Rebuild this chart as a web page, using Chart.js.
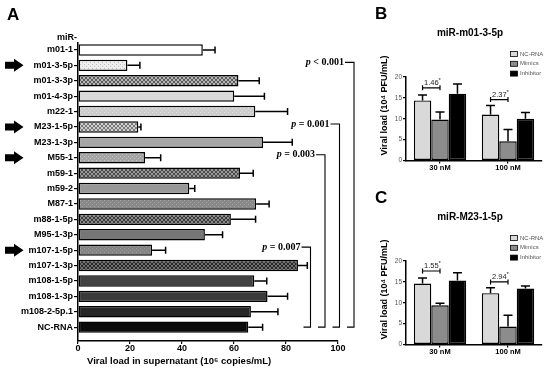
<!DOCTYPE html>
<html>
<head>
<meta charset="utf-8">
<script src="https://cdn.jsdelivr.net/npm/chart.js@4.4.1/dist/chart.umd.min.js"></script>
<style>
body { margin:0; background:#fff; width:550px; height:368px; overflow:hidden; position:relative; }
canvas { position:absolute; }
#chartA { left:0; top:0; }
#chartB { left:370px; top:0; }
#chartC { left:370px; top:184px; }
</style>
</head>
<body>
<canvas id="chartA" width="370" height="368"></canvas>
<canvas id="chartB" width="180" height="184"></canvas>
<canvas id="chartC" width="180" height="184"></canvas>
<script>
// ===== Panel A data =====
const mirLabels = ['m01-1', 'm01-3-5p', 'm01-3-3p', 'm01-4-3p', 'm22-1', 'M23-1-5p', 'M23-1-3p', 'M55-1',
  'm59-1', 'm59-2', 'M87-1', 'm88-1-5p', 'M95-1-3p', 'm107-1-5p', 'm107-1-3p', 'm108-1-5p',
  'm108-1-3p', 'm108-2-5p.1', 'NC-RNA'];
const loadA = [48, 19, 61.7, 60.1, 68.2, 23.2, 71.2, 25.8, 62.3, 42.8, 68.5, 58.8, 48.8, 28.5, 84.6, 67.8, 72.9, 66.5, 65.5];
const sdA = [4.7, 4.8, 8, 11.6, 12.4, 1, 11.2, 6, 5.1, 2.1, 5, 9.5, 6.8, 5.2, 3.6, 4.8, 7.7, 10.4, 5.5];
const xTicksA = [0, 20, 40, 60, 80, 100];
const arrowRows = ['m01-3-5p', 'M23-1-5p', 'M55-1', 'm107-1-5p'];
const pTexts = ['< 0.001', '= 0.001', '= 0.003', '= 0.007'];
const pRows = ['m01-3-5p', 'M23-1-5p', 'M55-1', 'm107-1-5p'];

// ===== Panels B and C data =====
const dosesBC = ['30 nM', '100 nM'];
const seriesBC = ['NC-RNA', 'Mimics', 'Inhibitor'];
const yTicksBC = [0, 5, 10, 15, 20];

const bNC = [14.4, 11.0];
const bMimics = [9.8, 4.6];
const bInhibitor = [16.0, 10.0];
const bNCsd = [1.3, 2.2];
const bMimicsSd = [1.8, 2.8];
const bInhibitorSd = [2.3, 1.5];
const bFold = ['1.46', '2.37'];
const bFoldAt = [17.4, 14.6];

const cNC = [14.6, 12.3];
const cMimics = [9.4, 4.3];
const cInhibitor = [15.3, 13.4];
const cNCsd = [1.3, 1.3];
const cMimicsSd = [0.5, 2.7];
const cInhibitorSd = [1.9, 0.6];
const cFold = ['1.55', '2.94'];
const cFoldAt = [17.6, 15.0];

const SANS = "'Liberation Sans', Arial, sans-serif";
const SERIF = "'Liberation Serif', 'Times New Roman', serif";

// ===== fill patterns =====
function hatch(dark, light) {
  const c = document.createElement('canvas'); c.width = 4; c.height = 4;
  const g = c.getContext('2d');
  g.fillStyle = light; g.fillRect(0, 0, 4, 4);
  g.fillStyle = dark;
  [[0,0],[1,1],[2,2],[3,3],[3,0],[2,1],[1,2],[0,3]].forEach(p => g.fillRect(p[0], p[1], 1, 1));
  return g.createPattern(c, 'repeat');
}
function speckle(base, dot) {
  const c = document.createElement('canvas'); c.width = 4; c.height = 4;
  const g = c.getContext('2d');
  g.fillStyle = base; g.fillRect(0, 0, 4, 4);
  g.fillStyle = dot;
  g.fillRect(0, 0, 1, 1); g.fillRect(2, 2, 1, 1);
  return g.createPattern(c, 'repeat');
}
const fillsA = [
  '#ffffff', speckle('#eeeeee', '#bdbdbd'), hatch('#5a5a5a', '#b8b8b8'), '#d9d9d9', speckle('#cccccc', '#e2e2e2'),
  hatch('#7a7a7a', '#cfcfcf'), '#a6a6a6', speckle('#a4a4a4', '#c4c4c4'), hatch('#4a4a4a', '#9a9a9a'), '#989898',
  speckle('#888888', '#a8a8a8'), hatch('#3c3c3c', '#8a8a8a'), '#767676', speckle('#848484', '#9c9c9c'),
  hatch('#2a2a2a', '#6e6e6e'), '#424242', '#3a3a3a', '#262626', '#0a0a0a'
];

// ===== Panel A extras: error bars, arrows, p brackets, texts =====
const panelAExtras = {
  id: 'panelAExtras',
  afterDatasetsDraw(chart) {
    const { ctx, chartArea, scales: { x, y } } = chart;
    const meta = chart.getDatasetMeta(0);
    ctx.save();
    ctx.strokeStyle = '#000';
    ctx.lineWidth = 1.5;
    meta.data.forEach((bar, i) => {
      const xe = x.getPixelForValue(loadA[i] + sdA[i]);
      ctx.beginPath();
      ctx.moveTo(bar.x, bar.y); ctx.lineTo(xe, bar.y);
      ctx.moveTo(xe, bar.y - 3.5); ctx.lineTo(xe, bar.y + 3.5);
      ctx.stroke();
    });

    // arrows
    ctx.fillStyle = '#000';
    arrowRows.forEach(name => {
      const yy = y.getPixelForValue(mirLabels.indexOf(name));
      ctx.beginPath();
      ctx.moveTo(5, yy - 3.5); ctx.lineTo(14, yy - 3.5); ctx.lineTo(14, yy - 6.5);
      ctx.lineTo(23.5, yy); ctx.lineTo(14, yy + 6.5); ctx.lineTo(14, yy + 3.5); ctx.lineTo(5, yy + 3.5);
      ctx.closePath(); ctx.fill();
    });

    // p brackets
    const yBot = y.getPixelForValue(mirLabels.length - 1);
    ctx.lineWidth = 1.1;
    ctx.textBaseline = 'middle';
    pTexts.forEach((t, k) => {
      const xb = chartArea.right + 16 - 14.5 * k;
      const yt = y.getPixelForValue(mirLabels.indexOf(pRows[k])) - 3;
      ctx.beginPath();
      ctx.moveTo(xb - 9, yt); ctx.lineTo(xb, yt); ctx.lineTo(xb, yBot); ctx.lineTo(xb - 7, yBot);
      ctx.stroke();
      ctx.font = 'bold 10px ' + SERIF;
      ctx.textAlign = 'right';
      const rest = ' ' + t;
      const xr = xb - 10;
      ctx.fillText(rest, xr, yt);
      const w = ctx.measureText(rest).width;
      ctx.font = 'italic bold 10px ' + SERIF;
      ctx.fillText('p', xr - w, yt);
    });

    // texts
    ctx.textAlign = 'left';
    ctx.font = 'bold 17px ' + SANS;
    ctx.fillText('A', 7, 15);
    ctx.textAlign = 'right';
    ctx.font = 'bold 9px ' + SANS;
    ctx.fillText('miR-', chartArea.left - 1, y.getPixelForValue(-0.82));
    ctx.textAlign = 'left';
    ctx.font = 'bold 9.5px ' + SANS;
    ctx.fillText('Viral load in supernatant (10\u2076 copies/mL)', chartArea.left + 9, 361);
    ctx.restore();
  }
};

new Chart(document.getElementById('chartA'), {
  type: 'bar',
  data: {
    datasets: [{
      label: 'Viral load',
      data: loadA.map((v, i) => ({ x: v, y: i })),
      backgroundColor: fillsA,
      borderColor: '#000',
      borderWidth: 1.5,
      borderSkipped: false,
      barPercentage: 0.74,
      categoryPercentage: 1
    }]
  },
  options: {
    indexAxis: 'y',
    responsive: false,
    animation: false,
    layout: { padding: { top: 43, right: 32, left: 0, bottom: 0 } },
    plugins: { legend: { display: false }, tooltip: { enabled: false } },
    scales: {
      x: {
        type: 'linear', min: 0, max: 100, offset: false,
        afterBuildTicks: s => { s.ticks = xTicksA.map(v => ({ value: v })); },
        afterFit: s => { s.height = 27; },
        grid: { drawOnChartArea: false, tickLength: 3, color: '#000', lineWidth: 1.2 },
        border: { color: '#000', width: 1.5 },
        ticks: { color: '#000', padding: 0, font: { family: SANS, size: 9, weight: 'bold', lineHeight: 1 } }
      },
      y: {
        type: 'linear', reverse: true, min: -0.45, max: 18.9, offset: false,
        afterBuildTicks: s => { s.ticks = mirLabels.map((_, i) => ({ value: i })); },
        afterFit: s => { s.width = 78; },
        grid: { offset: false, drawOnChartArea: false, tickLength: 4, color: '#000', lineWidth: 1.2 },
        border: { color: '#000', width: 1.5 },
        ticks: { autoSkip: false, color: '#000', padding: 1, callback: v => mirLabels[v],
          font: { family: SANS, size: 9, weight: 'bold' } }
      }
    }
  },
  plugins: [panelAExtras]
});

// ===== Panels B and C =====
const colorsBC = ['#d9d9d9', '#8c8c8c', '#000000'];

function dosePanel(id, letter, title, series, sds, fold, foldAt) {
  const extras = {
    id: 'extras' + letter,
    afterDatasetsDraw(chart) {
      const { ctx, scales: { y } } = chart;
      ctx.save();
      ctx.strokeStyle = '#000';
      ctx.fillStyle = '#000';
      ctx.lineWidth = 1.5;
      // error bars (upper only)
      series.forEach((d, s) => {
        chart.getDatasetMeta(s).data.forEach((bar, g) => {
          const ye = y.getPixelForValue(d[g] + sds[s][g]);
          ctx.beginPath();
          ctx.moveTo(bar.x, bar.y); ctx.lineTo(bar.x, ye);
          ctx.moveTo(bar.x - 4.5, ye); ctx.lineTo(bar.x + 4.5, ye);
          ctx.stroke();
        });
      });
      // fold-change brackets
      ctx.lineWidth = 1.2;
      fold.forEach((f, g) => {
        const x0 = chart.getDatasetMeta(0).data[g].x;
        const x1 = chart.getDatasetMeta(1).data[g].x;
        const yy = y.getPixelForValue(foldAt[g]);
        ctx.beginPath();
        ctx.moveTo(x0, yy - 2.5); ctx.lineTo(x0, yy + 2.5);
        ctx.moveTo(x0, yy); ctx.lineTo(x1, yy);
        ctx.moveTo(x1, yy - 2.5); ctx.lineTo(x1, yy + 2.5);
        ctx.stroke();
        ctx.font = '7.5px ' + SANS;
        ctx.fillStyle = '#222';
        ctx.textAlign = 'center';
        ctx.textBaseline = 'alphabetic';
        const xc = (x0 + x1) / 2;
        ctx.fillText(f, xc, yy - 3);
        const w = ctx.measureText(f).width;
        ctx.font = '6px ' + SANS;
        ctx.textAlign = 'left';
        ctx.fillText('*', xc + w / 2, yy - 6);
      });
      // legend
      ctx.textBaseline = 'middle';
      ctx.lineWidth = 0.8;
      seriesBC.forEach((name, i) => {
        const ly = 54 + 9.8 * i;
        ctx.fillStyle = colorsBC[i];
        ctx.fillRect(140.5, ly - 2.5, 7, 5);
        ctx.strokeRect(140.5, ly - 2.5, 7, 5);
        ctx.fillStyle = '#555';
        ctx.font = '6px ' + SANS;
        ctx.textAlign = 'left';
        ctx.fillText(name, 150, ly);
      });
      // panel letter, title, y title
      ctx.fillStyle = '#000';
      ctx.font = 'bold 17px ' + SANS;
      ctx.fillText(letter, 5, 14);
      ctx.font = 'bold 10px ' + SANS;
      ctx.textAlign = 'center';
      ctx.fillText(title, 100, 33);
      ctx.translate(15, 105.5);
      ctx.rotate(-Math.PI / 2);
      ctx.font = 'bold 9px ' + SANS;
      ctx.fillText('Viral load (10\u2074 PFU/mL)', 0, 0);
      ctx.restore();
    }
  };

  return new Chart(document.getElementById(id), {
    type: 'bar',
    data: {
      labels: dosesBC,
      datasets: series.map((d, i) => ({
        label: seriesBC[i],
        data: d,
        backgroundColor: colorsBC[i],
        borderColor: '#000',
        borderWidth: 1.4,
        borderSkipped: false,
        categoryPercentage: 0.77,
        barPercentage: 1
      }))
    },
    options: {
      responsive: false,
      animation: false,
      layout: { padding: { top: 77, right: 8, left: 0, bottom: 0 } },
      plugins: { legend: { display: false }, tooltip: { enabled: false } },
      scales: {
        x: {
          afterFit: s => { s.height = 23.5; },
          grid: { offset: false, drawOnChartArea: false, tickLength: 3, color: '#000', lineWidth: 1.2 },
          border: { color: '#000', width: 1.5 },
          ticks: { color: '#000', padding: 0, font: { family: SANS, size: 7.5, weight: 'bold', lineHeight: 1.2 } }
        },
        y: {
          min: 0, max: 20,
          afterBuildTicks: s => { s.ticks = yTicksBC.map(v => ({ value: v })); },
          afterFit: s => { s.width = 36; },
          grid: { drawOnChartArea: false, tickLength: 3, color: '#000', lineWidth: 1.2 },
          border: { color: '#000', width: 1.5 },
          ticks: { color: '#555', padding: 1, font: { family: SANS, size: 6.5 } }
        }
      }
    },
    plugins: [extras]
  });
}

dosePanel('chartB', 'B', 'miR-m01-3-5p', [bNC, bMimics, bInhibitor], [bNCsd, bMimicsSd, bInhibitorSd], bFold, bFoldAt);
dosePanel('chartC', 'C', 'miR-M23-1-5p', [cNC, cMimics, cInhibitor], [cNCsd, cMimicsSd, cInhibitorSd], cFold, cFoldAt);
</script>
</body>
</html>
